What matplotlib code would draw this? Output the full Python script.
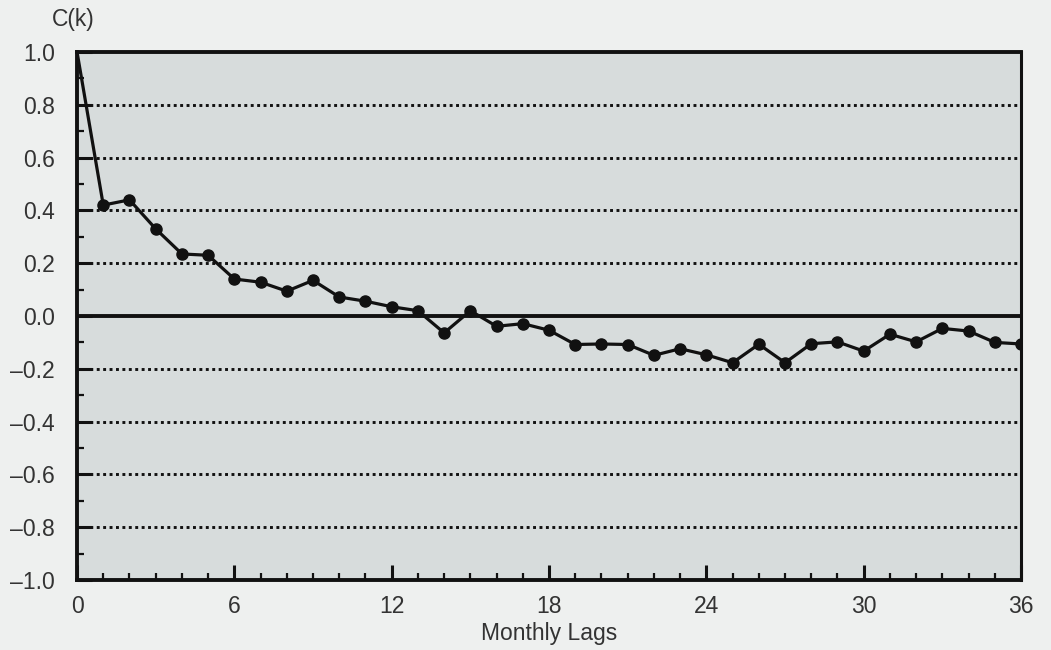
import numpy as np
import matplotlib.pyplot as plt
from matplotlib.ticker import MultipleLocator

# autocorrelation by monthly lag
lags = list(range(0, 37))
ck = [1.00, 0.42, 0.44, 0.33, 0.235, 0.23, 0.14, 0.128, 0.094, 0.135,
      0.072, 0.056, 0.035, 0.02, -0.064, 0.02, -0.039, -0.029, -0.054, -0.108,
      -0.106, -0.108, -0.149, -0.124, -0.147, -0.177, -0.107, -0.177, -0.105, -0.098,
      -0.133, -0.069, -0.098, -0.047, -0.057, -0.10, -0.106]

xticks = [0, 6, 12, 18, 24, 30, 36]
yticks = [-1.0, -0.8, -0.6, -0.4, -0.2, 0.0, 0.2, 0.4, 0.6, 0.8, 1.0]

plt.rcParams['font.family'] = ['Liberation Sans', 'DejaVu Sans']

fig = plt.figure(figsize=(10.51, 6.5), dpi=100)
fig.patch.set_facecolor('#eef0ef')
ax = fig.add_axes([0.0733, 0.1077, 0.8982, 0.8123])
ax.set_facecolor('#d7dcdc')

# dotted gridlines at each major y tick except 0 and the ends
for y in yticks[1:-1]:
    if y == 0.0:
        continue
    ax.axhline(y, color='#111111', linestyle=(0, (1, 1.2)), linewidth=2.1, zorder=1)
ax.axhline(0.0, color='#111111', linewidth=2.8, zorder=2)

ax.plot(lags, ck, color='#111111', linewidth=2.3, marker='o', markersize=8,
        markevery=list(range(1, len(lags))), zorder=3)

ax.set_xlim(0, 36)
ax.set_ylim(-1.0, 1.0)
ax.set_xticks(xticks)
ax.set_yticks(yticks)
ax.set_yticklabels([f'{v:.1f}'.replace('-', '\u2013') for v in yticks])
ax.xaxis.set_minor_locator(MultipleLocator(1))
ax.yaxis.set_minor_locator(MultipleLocator(0.1))

ax.tick_params(axis='both', which='major', direction='in', length=11, width=2.2,
               labelsize=16.5, colors='#111111', labelcolor='#333333')
ax.tick_params(axis='both', which='minor', direction='in', length=5, width=1.6,
               colors='#111111')
ax.tick_params(axis='x', which='major', pad=11)
ax.tick_params(axis='y', which='major', pad=16)
ax.tick_params(top=False, right=False, which='both')

for side in ['left', 'bottom', 'top']:
    ax.spines[side].set_linewidth(2.8)
    ax.spines[side].set_color('#111111')
ax.spines['right'].set_linewidth(2.2)
ax.spines['right'].set_color('#111111')

ax.set_xlabel('Monthly Lags', fontsize=16.5, color='#333333', labelpad=3)
fig.text(0.049, 0.97, 'C(k)', fontsize=16.5, color='#333333', va='center')

fig.savefig('out.png', dpi=100, facecolor=fig.get_facecolor())
